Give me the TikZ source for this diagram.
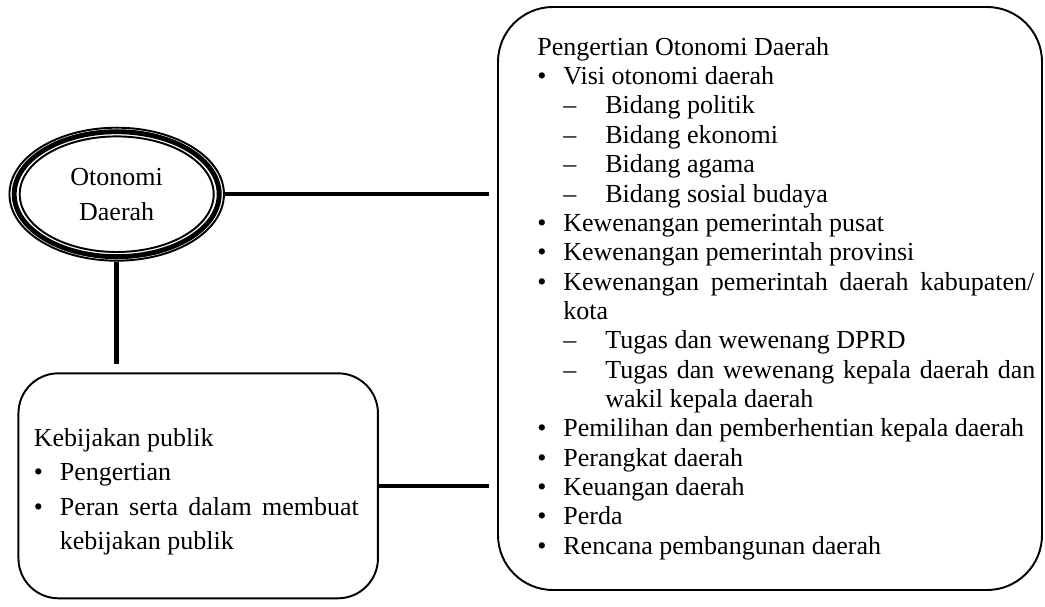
\documentclass[tikz,border=0pt]{standalone}
\usepackage{fontspec}
\setmainfont{Liberation Serif}
\usepackage{tikz}
\usetikzlibrary{shapes.geometric, positioning}

\newcommand{\bulitem}{\makebox[0.52cm][l]{\textbullet}}
\newcommand{\dashitem}{\hspace*{0.52cm}\makebox[0.84cm][l]{--}}
\newcommand{\fillline}[2]{\makebox[#1][s]{#2}}

\begin{document}
\begin{tikzpicture}[
  otdaring/.style={ellipse, draw, line width=1.1pt, inner sep=0pt,
                   minimum width=4.29cm, minimum height=2.66cm, align=center,
                   font=\fontsize{14.8pt}{19.9pt}\selectfont},
  panel/.style={rectangle, draw, line width=1.1pt, inner sep=0pt},
  listtext/.style={inner sep=0pt, align=left},
  link/.style={line width=2.6pt, shorten >=0.16cm}
]
\useasboundingbox (0,0) rectangle (20.9,-12.12);

% boxes
\node[otdaring] (otda) at (2.334,-3.884) {Otonomi\\Daerah};
\draw[line width=2.8pt] (otda.center) ellipse [x radius=2.05cm, y radius=1.25cm];
\draw[line width=1.1pt] (otda.center) ellipse [x radius=1.94cm, y radius=1.156cm];

\node[panel, rounded corners=0.8cm, minimum width=7.19cm, minimum height=4.5cm] (kp) at (3.964,-9.716) {};
\node[panel, rounded corners=1.1cm, minimum width=10.88cm, minimum height=11.66cm] (pod) at (15.40,-5.97) {};

% texts
\node[listtext, right=0.32cm of kp.west, yshift=-0.12cm, font=\fontsize{14.8pt}{19.7pt}\selectfont] (kptext) {%
  Kebijakan publik\\
  \bulitem Pengertian\\
  \bulitem \fillline{5.98cm}{Peran serta dalam membuat}\\
  \hspace*{0.52cm}kebijakan publik};

\node[listtext, right=0.8cm of pod.west, font=\fontsize{14.8pt}{16.7pt}\selectfont] (podtext) {%
  Pengertian Otonomi Daerah\\
  \bulitem Visi otonomi daerah\\
  \dashitem Bidang politik\\
  \dashitem Bidang ekonomi\\
  \dashitem Bidang agama\\
  \dashitem Bidang sosial budaya\\
  \bulitem Kewenangan pemerintah pusat\\
  \bulitem Kewenangan pemerintah provinsi\\
  \bulitem \fillline{9.42cm}{Kewenangan pemerintah daerah kabupaten/}\\
  \hspace*{0.52cm}kota\\
  \dashitem Tugas dan wewenang DPRD\\
  \dashitem \fillline{8.6cm}{Tugas dan wewenang kepala daerah dan}\\
  \hspace*{1.36cm}wakil kepala daerah\\
  \bulitem Pemilihan dan pemberhentian kepala daerah\\
  \bulitem Perangkat daerah\\
  \bulitem Keuangan daerah\\
  \bulitem Perda\\
  \bulitem Rencana pembangunan daerah};

% connectors
\draw[link] (otda.east) -- (otda.east -| pod.west);
\draw[link] (otda.south) -- (otda.south |- kp.north);
\draw[link] (kp.east) -- (kp.east -| pod.west);

\end{tikzpicture}
\end{document}
